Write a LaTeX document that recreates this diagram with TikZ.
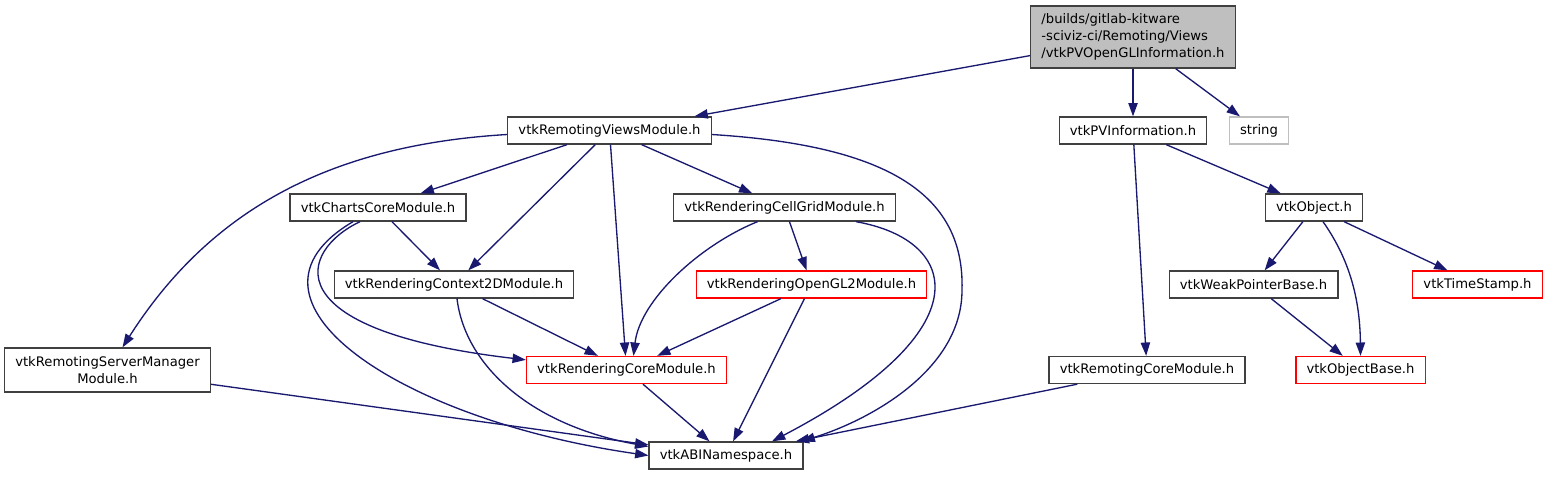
\documentclass[tikz,border=0pt]{standalone}
\usepackage{fontspec}
\setmainfont{DejaVu Sans}
\usepackage{tikz}
\usetikzlibrary{arrows.meta,calc}

\definecolor{edgeblue}{HTML}{191970}
\definecolor{darkgrey}{HTML}{404040}
\definecolor{lightgrey}{HTML}{BFBFBF}

\begin{document}
\begin{tikzpicture}[
      x=0.75pt,
      y=-0.75pt,
      myfile/.style={
         rectangle,
         draw=darkgrey,
         line width=1pt,
         inner xsep=8pt,
         inner ysep=0pt,
         minimum height=20.25pt,
         font=\fontsize{9.87}{12}\selectfont},
      myredfile/.style={myfile,draw=red},
      mystdfile/.style={myfile,draw=lightgrey},
      myrootfile/.style={
         myfile,
         fill=lightgrey,
         align=left,
         minimum height=46.5pt,
         font=\fontsize{9.87}{13}\selectfont},
      myarrow/.style={
         -{Triangle[length=10pt,width=7pt]},
         color=edgeblue,
         line width=1pt}
      ]
      \useasboundingbox (0,0) rectangle (1548,476);
      \node[myrootfile] (h1) at (1133,37) {/builds/gitlab-kitware\\-sciviz-ci/Remoting/Views\\/vtkPVOpenGLInformation.h};
      \node[myfile] (h2) at (609.5,130.5) {vtkRemotingViewsModule.h};
      \node[myfile] (h3) at (1133,130.5) {vtkPVInformation.h};
      \node[mystdfile] (h4) at (1259,130.5) {string};
      \node[myfile] (h5) at (378,207.5) {vtkChartsCoreModule.h};
      \node[myfile] (h6) at (784.5,207.5) {vtkRenderingCellGridModule.h};
      \node[myfile] (h7) at (1314,207.5) {vtkObject.h};
      \node[myfile] (h8) at (454,284.5) {vtkRenderingContext2DModule.h};
      \node[myredfile] (h9) at (811.5,284.5) {vtkRenderingOpenGL2Module.h};
      \node[myfile] (h10) at (1253.5,284.5) {vtkWeakPointerBase.h};
      \node[myredfile] (h11) at (1477.5,284.5) {vtkTimeStamp.h};
      \node[myfile,align=center,minimum height=33pt,font=\fontsize{9.87}{12.5}\selectfont] (h12) at (107.5,370) {vtkRemotingServerManager\\Module.h};
      \node[myredfile] (h13) at (626.5,370) {vtkRenderingCoreModule.h};
      \node[myfile] (h14) at (1147,370) {vtkRemotingCoreModule.h};
      \node[myredfile] (h15) at (1360.5,370) {vtkObjectBase.h};
      \node[myfile] (h16) at (726,455.5) {vtkABINamespace.h};
    \draw [myarrow] (h1) -- ($(h2.north)+(85,0)$);
    \foreach \i/\j in {
      h1/h3, h1/h4,
      h2/h5, h2/h8, h2/h13, h2/h6,
      h5/h8, h8/h13, h13/h16,
      h6/h9, h9/h13, h9/h16,
      h3/h14, h3/h7, h14/h16,
      h7/h10, h7/h11, h10/h15,
      h12/h16}
       \draw [myarrow] (\i) -- (\j);
    % curved edges
    \draw [myarrow] ($(h2.west)+(0,4)$) .. controls (330,145) and (210,210) .. ($(h12.north)+(15,0)$);
    \draw [myarrow] ($(h5.south)+(-18,0)$) .. controls (300,250) and (270,330) .. ($(h13.north west)+(0,4)$);
    \draw [myarrow] ($(h5.south)+(-25,0)$) .. controls (220,300) and (400,420) .. (h16.west);
    \draw [myarrow] ($(h8.south)+(3,0)$) .. controls (465,365) and (530,425) .. ($(h16.west)+(0,-9)$);
    \draw [myarrow] ($(h6.south)+(-27,0)$) .. controls (700,245) and (640,300) .. ($(h13.north)+(7,0)$);
    \draw [myarrow] ($(h6.south east)+(-40,0)$) .. controls (960,240) and (985,330) .. ($(h16.north)+(46,0)$);
    \draw [myarrow] ($(h2.east)+(0,4)$) .. controls (880,145) and (965,190) .. (962,290)
       .. controls (962,370) and (870,420) .. ($(h16.north east)+(-2,0)$);
    \draw [myarrow] ($(h7.south)+(9,0)$) .. controls (1350,260) and (1360,300) .. (h15.north);
\end{tikzpicture}
\end{document}
